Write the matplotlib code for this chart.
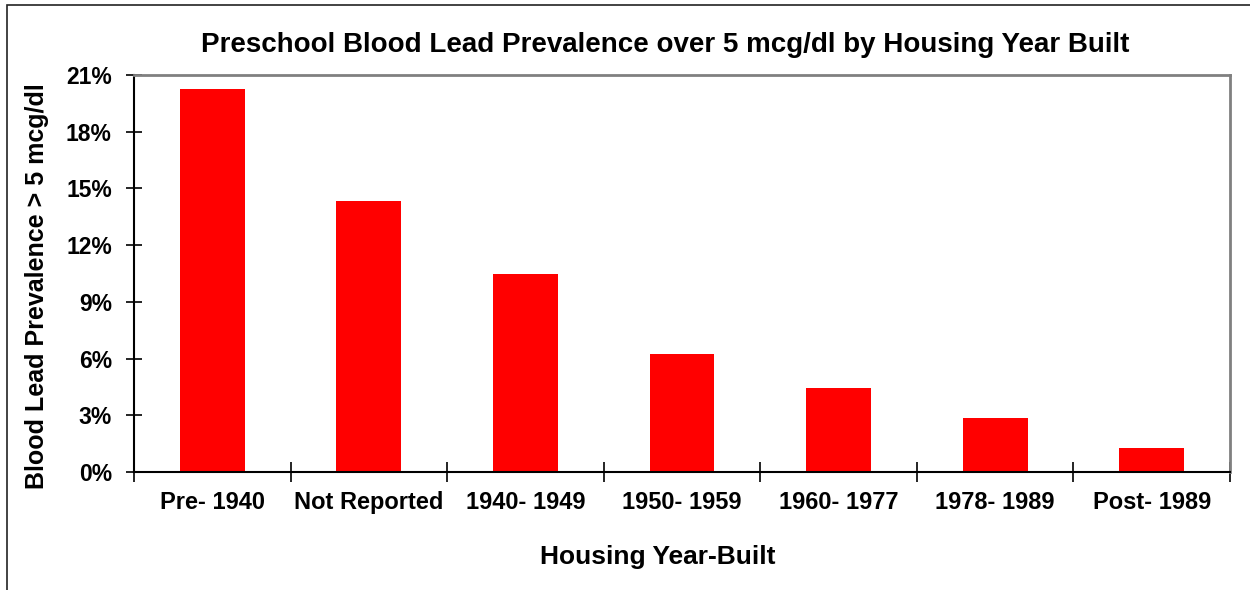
import matplotlib.pyplot as plt
from matplotlib.patches import Rectangle
from matplotlib.ticker import FuncFormatter

categories = ["Pre- 1940", "Not Reported", "1940- 1949", "1950- 1959",
              "1960- 1977", "1978- 1989", "Post- 1989"]
prevalence = [20.25, 14.35, 10.45, 6.25, 4.45, 2.85, 1.25]
y_ticks = [0, 3, 6, 9, 12, 15, 18, 21]

plt.rcParams['font.family'] = ['Liberation Sans', 'DejaVu Sans']
plt.rcParams['font.weight'] = 'bold'

W, H = 1250, 590
fig = plt.figure(figsize=(12.5, 5.9), dpi=100)
ax = fig.add_axes([134 / W, 1 - 472 / H, (1230 - 134) / W, (472 - 75) / H])

# outer chart frame
fig.patches.append(Rectangle((7 / W, -0.1), 1.2, 1 - 5 / H + 0.1,
                             transform=fig.transFigure, fill=False,
                             edgecolor='#222222', linewidth=1.2))

x = range(len(categories))
ax.bar(x, prevalence, width=0.415, color='#ff0000', zorder=2)

ax.set_xlim(-0.5, len(categories) - 0.5)
ax.set_ylim(0, 21)
ax.set_yticks(y_ticks)
ax.yaxis.set_major_formatter(FuncFormatter(lambda v, p: f"{v:.0f}%"))
ax.set_xticks(list(x))
ax.set_xticklabels(categories)
ax.set_xticks([i - 0.5 for i in range(len(categories) + 1)], minor=True)
ax.tick_params(axis='x', which='major', length=0, pad=14, labelsize=17)
ax.tick_params(axis='x', which='minor', direction='inout', length=14, width=1.2)
ax.tick_params(axis='y', direction='inout', length=12, width=1.2, labelsize=16.5, pad=10)

for side in ['left', 'bottom']:
    ax.spines[side].set_color('black')
    ax.spines[side].set_linewidth(1.5)
for side in ['top', 'right']:
    ax.spines[side].set_color('#808080')
    ax.spines[side].set_linewidth(2)

fig.text(665 / W, 1 - 45 / H,
         "Preschool Blood Lead Prevalence over 5 mcg/dl by Housing Year Built",
         fontsize=20, fontweight='bold', ha='center', va='center')
fig.text(658 / W, 1 - 557 / H, "Housing Year-Built",
         fontsize=19, fontweight='bold', ha='center', va='center')
fig.text(37 / W, 1 - 286 / H, "Blood Lead Prevalence > 5 mcg/dl",
         fontsize=18, fontweight='bold', ha='center', va='center', rotation=90)

fig.savefig("out.png", dpi=100)
